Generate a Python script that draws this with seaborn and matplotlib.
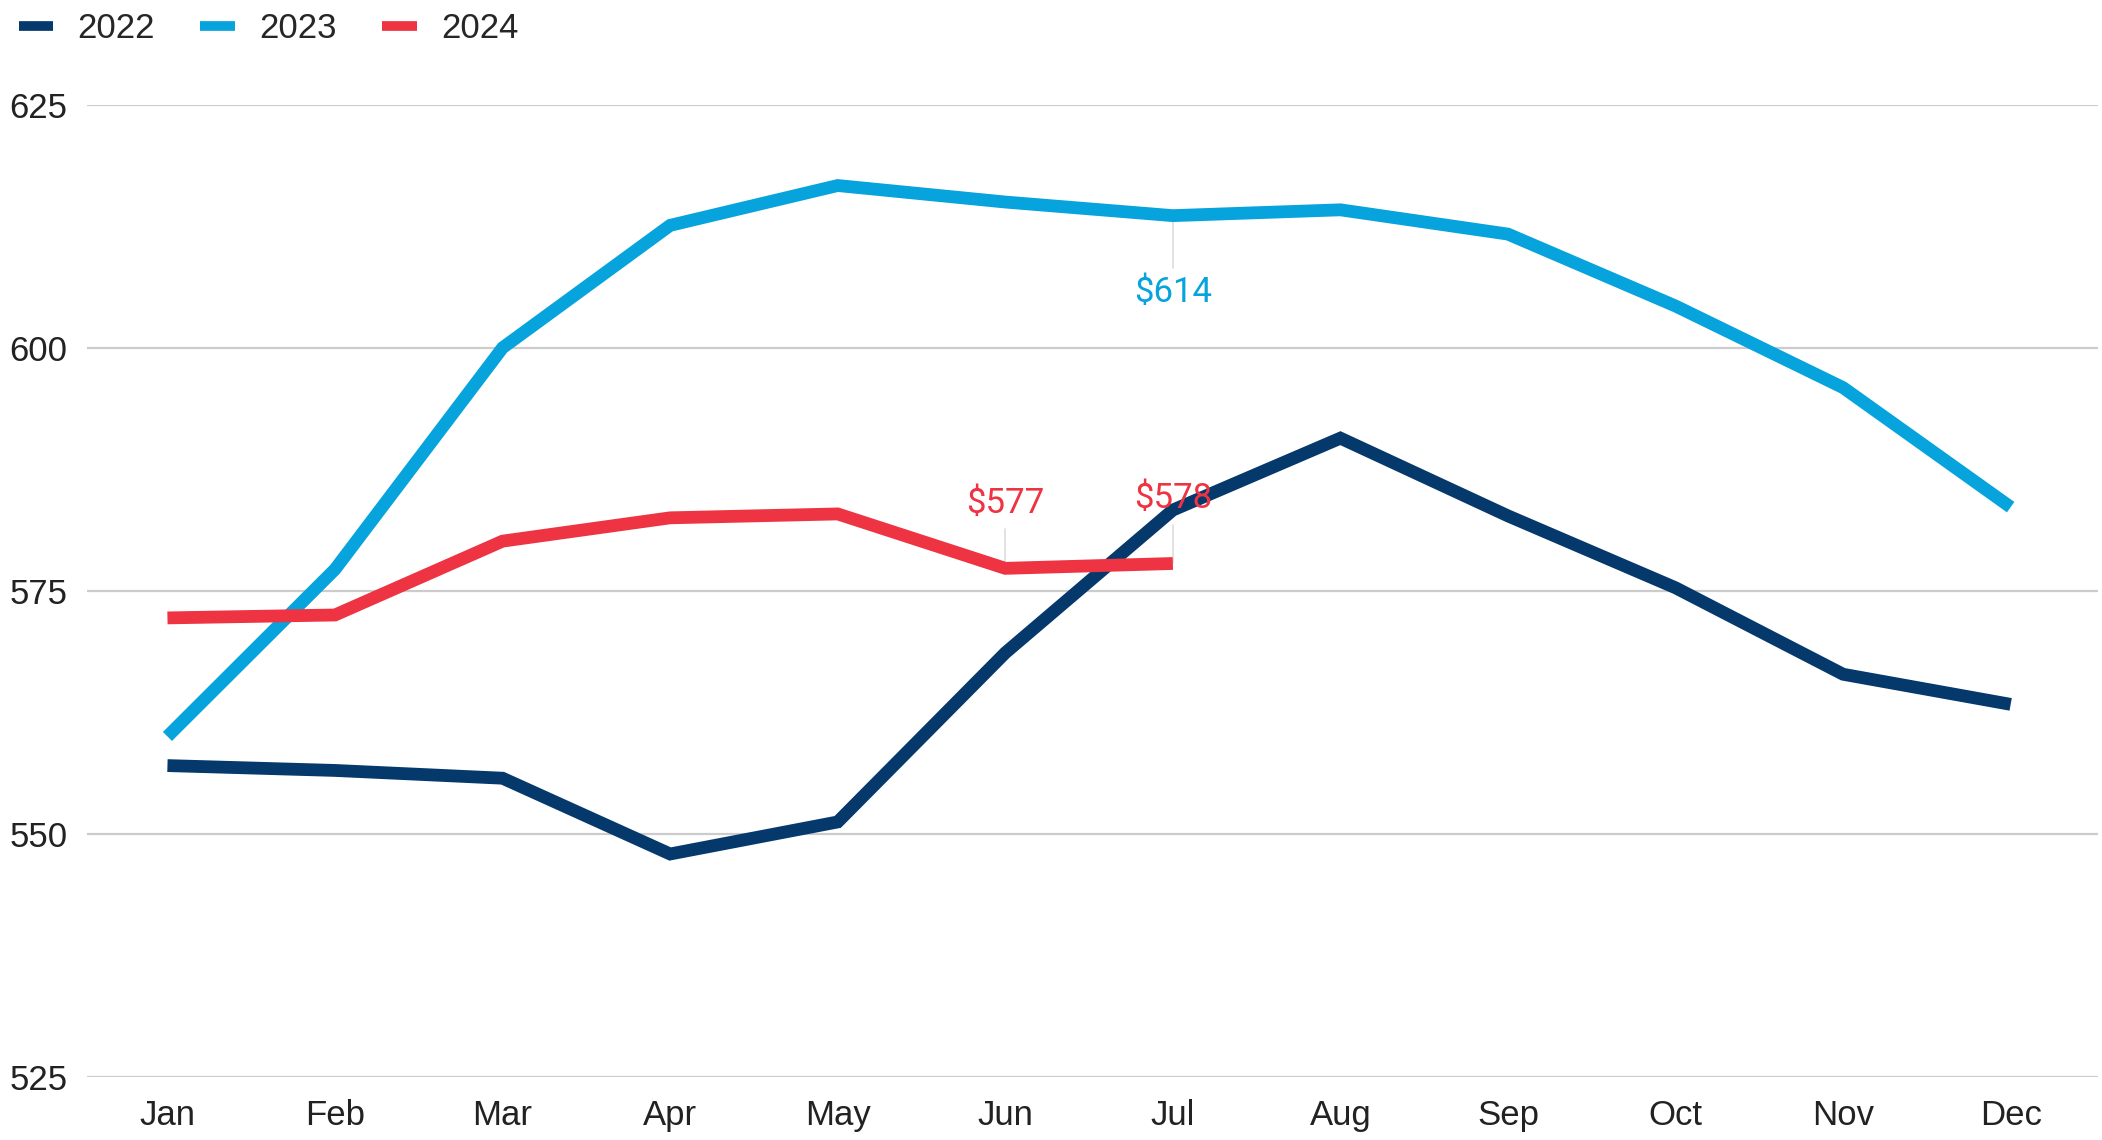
import numpy as np
import pandas as pd
import matplotlib
matplotlib.use("Agg")
import matplotlib.pyplot as plt
import seaborn as sns
sns.set_style("white")
plt.rcParams['font.family'] = ['Liberation Sans', 'DejaVu Sans']

months = ["Jan", "Feb", "Mar", "Apr", "May", "Jun", "Jul", "Aug", "Sep", "Oct", "Nov", "Dec"]
v2022 = [557.0, 556.5, 555.7, 547.9, 551.2, 568.6, 583.3, 590.7, 582.7, 575.3, 566.4, 563.3]
v2023 = [560.0, 577.2, 600.0, 612.6, 616.7, 615.0, 613.6, 614.2, 611.7, 604.3, 595.9, 583.6]
v2024 = [572.2, 572.5, 580.1, 582.5, 582.9, 577.3, 577.8]
years = ["2022", "2023", "2024"]
colors = {"2022": "#05386b", "2023": "#06a3dc", "2024": "#ee3342"}

frames = []
for yr, vals in zip(years, [v2022, v2023, v2024]):
    frames.append(pd.DataFrame({"month": np.arange(len(vals)), "value": vals, "year": yr}))
df = pd.concat(frames)

fig = plt.figure(figsize=(10.51, 5.70), dpi=200)
ax = fig.add_axes([0.0414, 0.0557, 0.9566, 0.8523])

sns.lineplot(data=df, x="month", y="value", hue="year", palette=colors,
             linewidth=4.6, ax=ax, legend=False)
for ln in ax.lines:
    ln.set_solid_capstyle("butt")
    ln.set_solid_joinstyle("miter")

ax.set_xlim(-0.48, 11.52)
ax.set_ylim(525, 625)
ax.set_yticks([525, 550, 575, 600, 625])
ax.set_xticks(range(12))
ax.set_xticklabels(months)
ax.yaxis.grid(True, color="#cccccc", linewidth=0.8)
ax.set_axisbelow(True)
for sp in ax.spines.values():
    sp.set_visible(False)
ax.tick_params(axis="both", length=0, labelsize=12.5, colors="#222222")
ax.tick_params(axis="y", pad=7)
ax.tick_params(axis="x", pad=8)
ax.set_xlabel("")
ax.set_ylabel("")

# callouts
notes = [("2023", 6, v2023[6], 605.7, 608.2),
         ("2024", 5, v2024[5], 584.0, 581.3),
         ("2024", 6, v2024[6], 584.5, 581.8)]
for yr, i, val, ty, ly in notes:
    ax.plot([i, i], [val, ly], color="#dddddd", linewidth=0.6, zorder=1)
    ax.text(i, ty, f"${round(val)}", color=colors[yr], ha="center", va="center",
            fontsize=12.5, family=["Roboto", "DejaVu Sans"])

handles = [plt.Line2D([0], [0], color=colors[y], linewidth=3.5, solid_capstyle="butt")
           for y in years]
fig.legend(handles, years, loc="upper left", bbox_to_anchor=(-0.006, 1.017), ncol=3,
           frameon=False, fontsize=12.5, handlelength=1.0, handletextpad=0.7,
           columnspacing=1.3)

fig.savefig("out.png", dpi=200)
